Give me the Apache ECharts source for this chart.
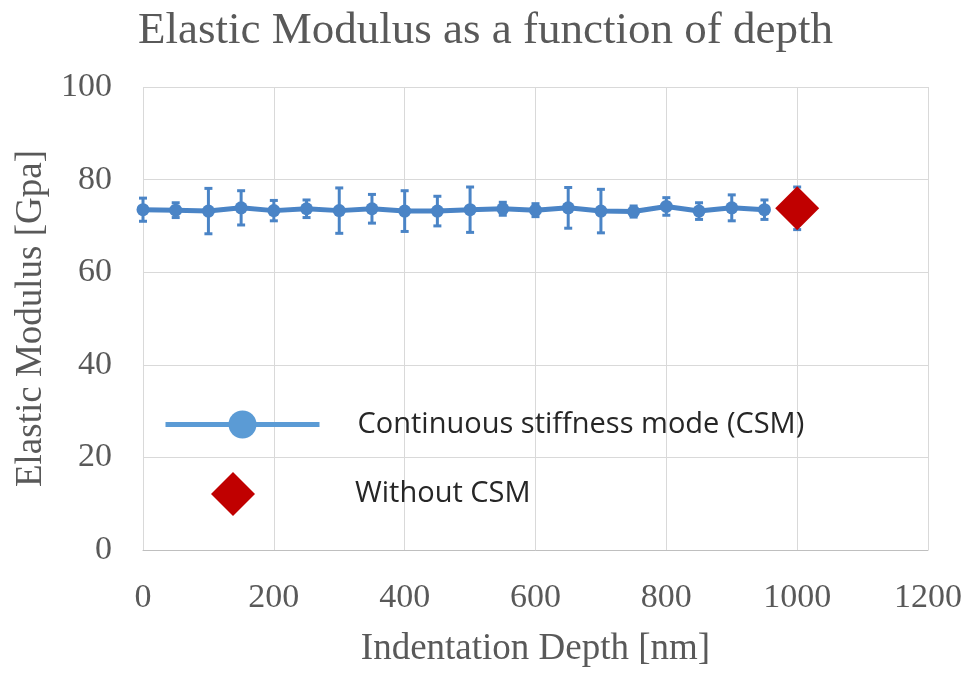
<!DOCTYPE html>
<html>
<head>
<meta charset="utf-8">
<script src="https://cdn.jsdelivr.net/npm/echarts@6/dist/echarts.min.js"></script>
<style>html,body{margin:0;padding:0;background:#fff}#c{width:971px;height:673px}</style>
</head>
<body>
<div id="c"></div>
<script>
const depth = [0, 50, 100, 150, 200, 250, 300, 350, 400, 450, 500, 550, 600, 650, 700, 750, 800, 850, 900, 950];
const modulus = [73.5, 73.4, 73.2, 73.9, 73.3, 73.7, 73.3, 73.7, 73.2, 73.2, 73.5, 73.7, 73.4, 73.9, 73.2, 73.1, 74.2, 73.2, 73.9, 73.5];
const errors = [2.5, 1.6, 4.9, 3.7, 2.2, 1.9, 4.9, 3.1, 4.4, 3.2, 4.9, 1.4, 1.4, 4.4, 4.7, 1.2, 1.9, 1.8, 2.8, 2.1];
const noCsmDepth = [1000];
const noCsmModulus = [73.8];
const noCsmErrors = [4.6];
const xTicks = { min: 0, max: 1200, interval: 200 };
const yTicks = { min: 0, max: 100, interval: 20 };

const lineColor = '#4a84c6';
const legendBlue = '#5b9bd5';
const diamondColor = '#c00000';
const textGray = '#595959';
const serif = '"Liberation Serif", "Times New Roman", serif';

function errorBar(color) {
  return function (params, api) {
    const x = api.value(0), lo = api.value(1), hi = api.value(2);
    const p1 = api.coord([x, hi]);
    const p2 = api.coord([x, lo]);
    const w = 4;
    const st = { stroke: color, lineWidth: 3 };
    return {
      type: 'group',
      children: [
        { type: 'line', shape: { x1: p1[0], y1: p1[1], x2: p2[0], y2: p2[1] }, style: st },
        { type: 'line', shape: { x1: p1[0] - w, y1: p1[1], x2: p1[0] + w, y2: p1[1] }, style: st },
        { type: 'line', shape: { x1: p2[0] - w, y1: p2[1], x2: p2[0] + w, y2: p2[1] }, style: st }
      ]
    };
  };
}

const chart = echarts.init(document.getElementById('c'));
chart.setOption({
  animation: false,
  title: {
    text: 'Elastic Modulus as a function of depth',
    left: 'center', top: 4,
    textStyle: { fontFamily: serif, fontSize: 45, fontWeight: 'normal', color: textGray }
  },
  grid: { left: 143, right: 43, top: 87, bottom: 118, containLabel: false },
  xAxis: {
    type: 'value', min: xTicks.min, max: xTicks.max, interval: xTicks.interval,
    name: 'Indentation Depth [nm]', nameLocation: 'middle', nameGap: 81,
    nameTextStyle: { fontFamily: serif, fontSize: 37, color: textGray },
    axisLine: { show: true, lineStyle: { color: '#bfbfbf', width: 1 } },
    axisTick: { show: false },
    axisLabel: { fontFamily: serif, fontSize: 34, color: textGray, margin: 31, formatter: v => String(v) },
    splitLine: { show: true, lineStyle: { color: '#d9d9d9', width: 1 } }
  },
  yAxis: {
    type: 'value', min: yTicks.min, max: yTicks.max, interval: yTicks.interval,
    name: 'Elastic Modulus [Gpa]', nameLocation: 'middle', nameGap: 89,
    nameTextStyle: { fontFamily: serif, fontSize: 37, color: textGray },
    axisLine: { show: false },
    axisTick: { show: false },
    axisLabel: { fontFamily: serif, fontSize: 34, color: textGray, margin: 31 },
    splitLine: { show: true, lineStyle: { color: '#d9d9d9', width: 1 } }
  },
  legend: [
    {
      data: ['Continuous stiffness mode (CSM)'],
      left: 163, top: 410, padding: 0, itemWidth: 154, itemHeight: 35,
      itemStyle: { color: legendBlue },
      lineStyle: { color: legendBlue, width: 5 },
      textStyle: { fontFamily: '"Open Sans", sans-serif', fontSize: 29, color: '#262626', padding: [0, 0, 0, 33] }
    },
    {
      data: ['Without CSM'],
      left: 211, top: 472, padding: 0, itemWidth: 44, itemHeight: 44,
      textStyle: { fontFamily: '"Open Sans", sans-serif', fontSize: 29, color: '#262626', padding: [0, 0, 0, 95] }
    }
  ],
  series: [
    {
      type: 'custom', name: 'csmErr', silent: true, z: 2,
      renderItem: errorBar(lineColor),
      encode: { x: 0, y: [1, 2] },
      data: depth.map((d, i) => [d, modulus[i] - errors[i], modulus[i] + errors[i]])
    },
    {
      type: 'custom', name: 'noCsmErr', silent: true, z: 2,
      renderItem: errorBar(lineColor),
      encode: { x: 0, y: [1, 2] },
      data: noCsmDepth.map((d, i) => [d, noCsmModulus[i] - noCsmErrors[i], noCsmModulus[i] + noCsmErrors[i]])
    },
    {
      type: 'line', name: 'Continuous stiffness mode (CSM)', z: 3,
      data: depth.map((d, i) => [d, modulus[i]]),
      symbol: 'circle', symbolSize: 13, showSymbol: true,
      itemStyle: { color: lineColor },
      lineStyle: { color: lineColor, width: 5 }
    },
    {
      type: 'scatter', name: 'Without CSM', z: 4,
      data: noCsmDepth.map((d, i) => [d, noCsmModulus[i]]),
      symbol: 'diamond', symbolSize: 44,
      itemStyle: { color: diamondColor, opacity: 1 }
    }
  ]
});
</script>
</body>
</html>
